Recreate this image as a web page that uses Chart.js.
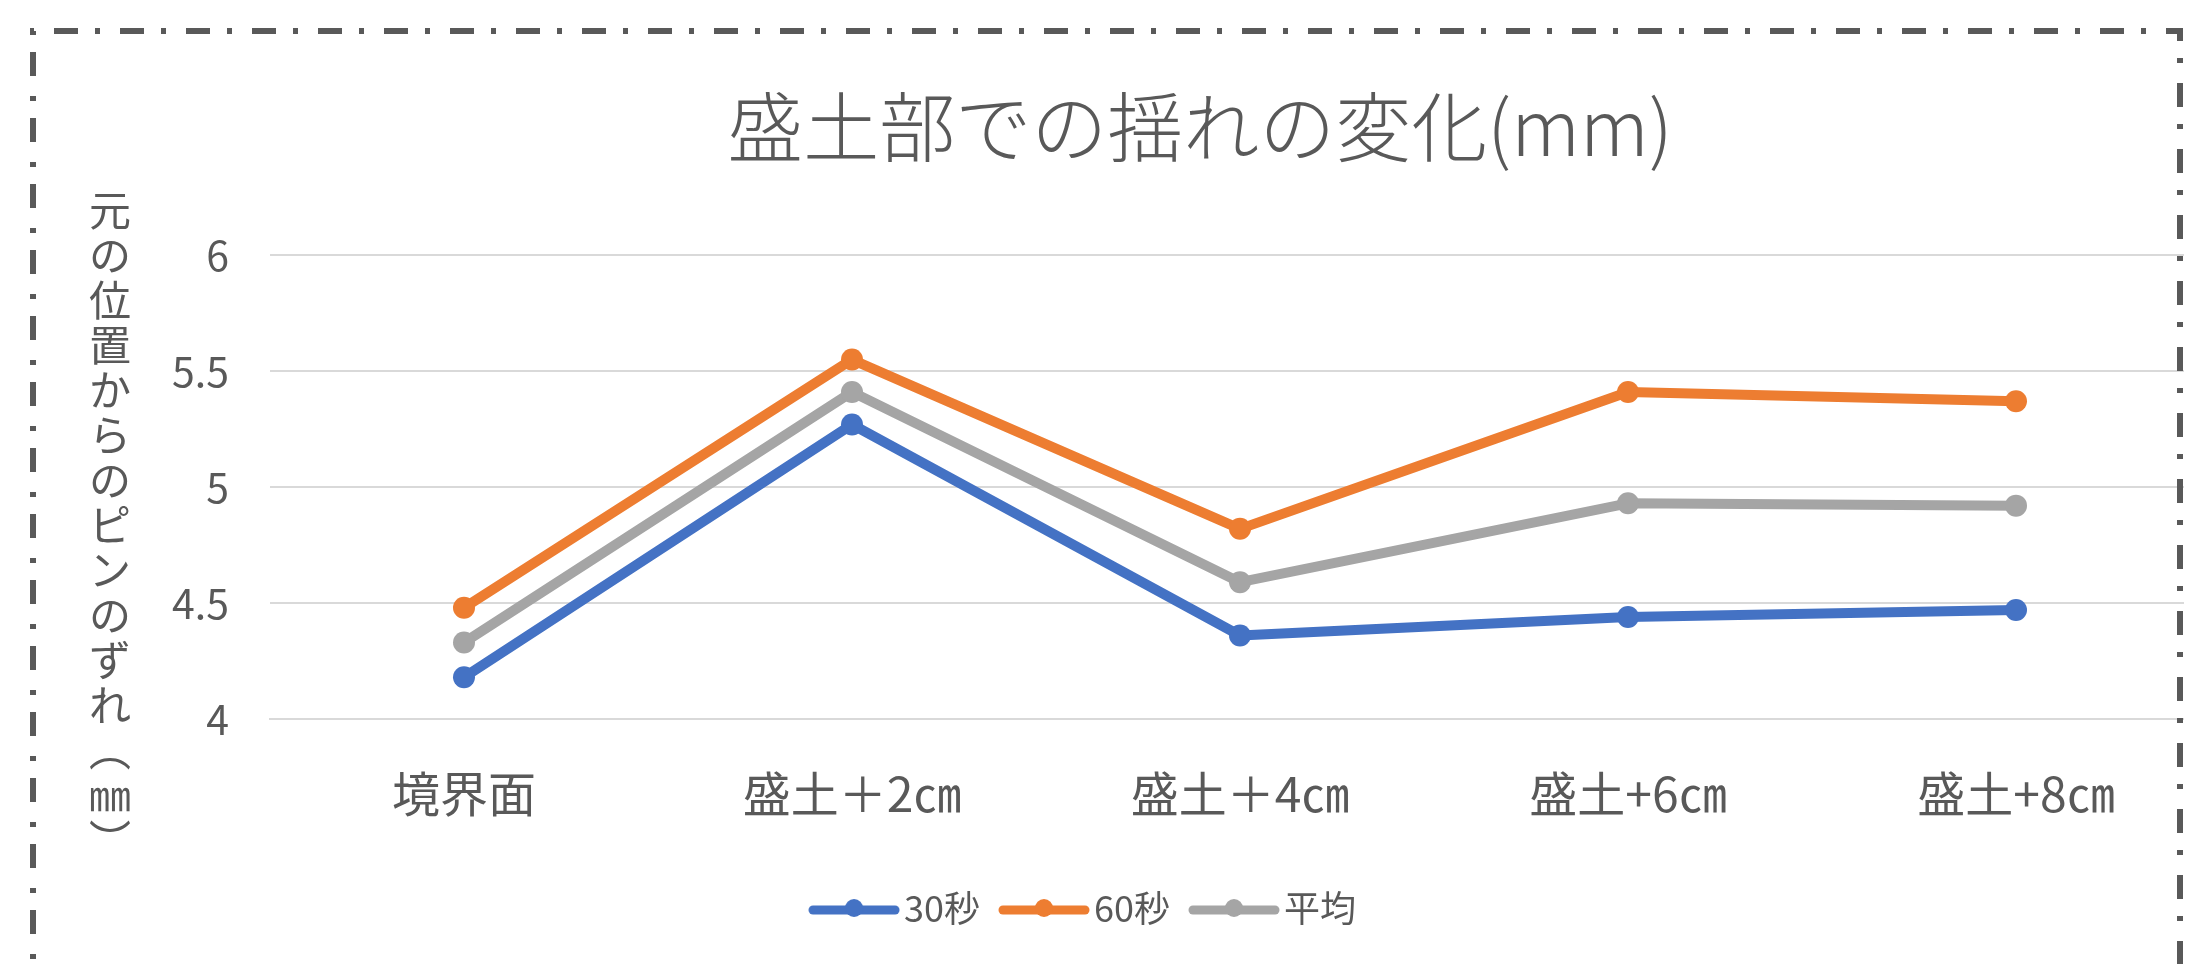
<!DOCTYPE html>
<html lang="ja">
<head>
<meta charset="utf-8">
<title>盛土部での揺れの変化</title>
<script src="https://cdn.jsdelivr.net/npm/chart.js@4.4.1/dist/chart.umd.min.js"></script>
<style>
	html, body { margin: 0; padding: 0; background: #fff; overflow: hidden; }
	#wrap { width: 2207px; height: 964px; overflow: hidden; }
	canvas { display: block; }
</style>
</head>
<body>
<div id="wrap"><canvas id="chart-area" width="2240" height="964"></canvas></div>
<script>
	var categories = ['境界面', '盛土＋2㎝', '盛土＋4㎝', '盛土+6㎝', '盛土+8㎝'];
	var seriesNames = ['30秒', '60秒', '平均'];
	var sec30 = [4.18, 5.27, 4.36, 4.44, 4.47];
	var sec60 = [4.48, 5.55, 4.82, 5.41, 5.37];
	var average = [4.33, 5.41, 4.59, 4.93, 4.92];
	var yTickValues = [4, 4.5, 5, 5.5, 6];
	var chartTitle = '盛土部での揺れの変化(mm)';
	var yTitle = '元の位置からのピンのずれ（㎜）';

	var colors = ['#4472C4', '#ED7D31', '#A5A5A5'];
	var textColor = '#595959';
	var gridColor = '#D9D9D9';
	var fontFamily = '"Noto Sans CJK JP", "Noto Sans", sans-serif';

	Chart.defaults.font.family = fontFamily;

	// legend sample: a short line with the marker on it
	function legendMark(color) {
		var c = document.createElement('canvas');
		c.width = 92;
		c.height = 26;
		var g = c.getContext('2d');
		g.strokeStyle = color;
		g.lineWidth = 9;
		g.lineCap = 'round';
		g.beginPath();
		g.moveTo(5, 15);
		g.lineTo(87, 15);
		g.stroke();
		g.fillStyle = color;
		g.beginPath();
		g.arc(46, 13, 9, 0, Math.PI * 2);
		g.fill();
		return c;
	}
	var marks = colors.map(legendMark);

	// put title and legend where they sit in the original
	var placePlugin = {
		id: 'place',
		afterLayout: function(chart) {
			var t = chart.titleBlock, l = chart.legend;
			var dt = 1200 - (t.left + t.right) / 2;
			t.left += dt;
			t.right += dt;
			var dl = 1089 - (l.left + l.right) / 2;
			l.left += dl;
			l.right += dl;
		}
	};

	// dash-dot frame round the chart, cut off at the right like the photo
	var framePlugin = {
		id: 'frame',
		afterDraw: function(chart) {
			var ctx = chart.ctx;
			ctx.save();
			ctx.fillStyle = '#fff';
			ctx.fillRect(2184, 0, chart.width - 2184, chart.height);
			ctx.strokeStyle = '#595959';
			ctx.lineWidth = 6;
			ctx.setLineDash([24, 17, 5, 20]);
			ctx.beginPath();
			ctx.moveTo(33, 1000);
			ctx.lineTo(33, 31);
			ctx.lineTo(2180, 31);
			ctx.lineTo(2180, 1000);
			ctx.stroke();
			ctx.restore();
		}
	};

	// upright, stacked axis title (vertical writing)
	var yTitlePlugin = {
		id: 'yTitle',
		afterDraw: function(chart) {
			var ctx = chart.ctx;
			var chars = Array.from(yTitle.replace('（', '︵').replace('）', '︶'));
			ctx.save();
			ctx.font = '42px ' + fontFamily;
			ctx.fillStyle = textColor;
			ctx.textAlign = 'center';
			ctx.textBaseline = 'middle';
			chars.forEach(function(ch, i) {
				ctx.fillText(ch, 110, 210 + i * 45);
			});
			ctx.restore();
		}
	};

	function makeSet(i, values) {
		return {
			label: seriesNames[i],
			data: values,
			borderColor: colors[i],
			backgroundColor: colors[i],
			borderWidth: 10,
			borderCapStyle: 'round',
			borderJoinStyle: 'round',
			pointRadius: 11,
			pointBorderWidth: 0,
			pointHoverRadius: 11,
			tension: 0
		};
	}

	var config = {
		type: 'line',
		data: {
			labels: categories,
			datasets: [
				makeSet(0, sec30),
				makeSet(1, sec60),
				makeSet(2, average)
			]
		},
		options: {
			responsive: false,
			animation: false,
			layout: {
				padding: { left: 150, right: 30, top: 60, bottom: 28 }
			},
			plugins: {
				title: {
					display: true,
					text: chartTitle,
					color: textColor,
					font: { size: 76, weight: 300, lineHeight: 1.2 },
					padding: { top: 22, bottom: 82 }
				},
				legend: {
					position: 'bottom',
					labels: {
						usePointStyle: true,
						pointStyleWidth: 64,
						padding: 32,
						color: textColor,
						font: { size: 36 },
						generateLabels: function(chart) {
							var items = Chart.defaults.plugins.legend.labels.generateLabels(chart);
							items.forEach(function(it, i) {
								it.pointStyle = marks[i];
								it.fontColor = textColor;
							});
							return items;
						}
					}
				},
				tooltip: { enabled: false }
			},
			scales: {
				x: {
					offset: true,
					grid: { display: false },
					border: { display: true, color: gridColor, width: 2 },
					ticks: {
						color: textColor,
						font: { size: 48 },
						padding: 38,
						maxRotation: 0
					},
					afterFit: function(scale) { scale.height = 139; }
				},
				y: {
					min: yTickValues[0],
					max: yTickValues[yTickValues.length - 1],
					afterBuildTicks: function(scale) {
						scale.ticks = yTickValues.map(function(v) { return { value: v }; });
					},
					grid: { color: gridColor, lineWidth: 2, drawTicks: false },
					border: { display: false },
					ticks: {
						color: textColor,
						font: { size: 41 },
						padding: 41,
						callback: function(v) { return String(v); }
					},
					afterFit: function(scale) { scale.width = 120; }
				}
			}
		},
		plugins: [placePlugin, framePlugin, yTitlePlugin]
	};

	window.onload = function() {
		var ctx = document.getElementById('chart-area').getContext('2d');
		window.myLine = new Chart(ctx, config);
	};
</script>
</body>
</html>
